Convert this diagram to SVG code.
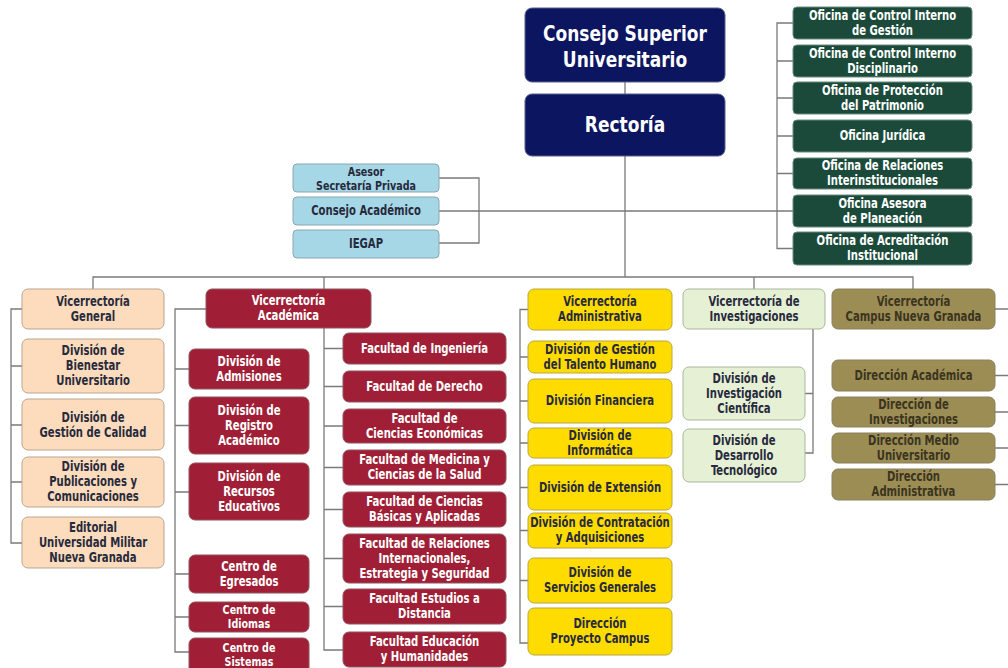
<svg xmlns="http://www.w3.org/2000/svg" width="1008" height="668" viewBox="0 0 1008 668">
<style>
text{font-family:"DejaVu Sans Condensed","Liberation Sans",sans-serif;font-weight:bold;font-size:13.5px;text-anchor:middle;transform-box:fill-box;transform-origin:center;transform:scaleX(0.83)}
.big{font-size:21.5px;transform:scaleX(0.88)}
.sm{font-size:11.8px;transform:scaleX(0.9)}
rect{stroke-width:1}
.navy rect{fill:#0c1560;stroke:#5a6088}
.navy text{fill:#fff}
.green rect{fill:#1b4a3a;stroke:#6b8a7e}
.green text{fill:#fff}
.blue rect{fill:#a5d7e6;stroke:#8aa7b2}
.blue text,.peach text,.yellow text,.pale text{fill:#272a3c}
.peach rect{fill:#fcdcbd;stroke:#b9a590}
.crimson rect{fill:#a01f36;stroke:#8e5560}
.crimson text{fill:#fff}
.yellow rect{fill:#ffdc00;stroke:#b9a640}
.pale rect{fill:#e6f0d5;stroke:#a9b59a}
.olive rect{fill:#9c8d54;stroke:#8a8060}
.olive text{fill:#3a3420}
#connectors path{fill:none;stroke:#7a7a7a;stroke-width:1.3}
</style>
<rect width="1008" height="668" fill="#fff"/>
<g id="connectors">
<path d="M625 82V94M625 156V277M93 289V277H913V289M324 277V289M754 277V289"/>
<path d="M439 178H479V243H439M439 211H777"/>
<path d="M793 23H777V248.5H793M777 61H793M777 98H793M777 136H793M777 173.5H793M777 211H793"/>
<path d="M22 309H11V543H22M11 366H22M11 425H22M11 482H22"/>
<path d="M206 309H175V652H189M175 369H189M175 425.5H189M175 492H189M175 574H189M175 617H189"/>
<path d="M324 328V650H343M324 348.5H343M324 386.5H343M324 426H343M324 467.5H343M324 509.5H343M324 558.5H343M324 606.5H343"/>
<path d="M528 309.5H520V643H528M520 357H528M520 401H528M520 443H528M520 487.5H528M520 530.5H528M520 580.5H528"/>
<path d="M813 329V453H805M813 393.5H805"/>
<path d="M995 309H1008M995 375.5H1008M995 412H1008M995 448H1008M995 484.5H1008"/>
</g>
<g id="consejo-superior" class="navy"><rect x="525" y="8" width="200" height="74" rx="7"/><text class="big" x="625" y="41.5">Consejo Superior</text><text class="big" x="625" y="67">Universitario</text></g>
<g id="rectoria" class="navy"><rect x="525" y="94" width="200" height="62" rx="7"/><text class="big" x="625" y="132.5">Rectoría</text></g>
<g id="asesor" class="blue"><rect x="293" y="164" width="146" height="28" rx="4"/><text class="sm" x="366" y="176">Asesor</text><text class="sm" x="366" y="190">Secretaría Privada</text></g>
<g id="consejo-academico" class="blue"><rect x="293" y="197" width="146" height="28" rx="4"/><text x="366" y="215.5">Consejo Académico</text></g>
<g id="iegap" class="blue"><rect x="293" y="230" width="146" height="28" rx="4"/><text x="366" y="248.5">IEGAP</text></g>
<g id="of-control-gestion" class="green"><rect x="793" y="7" width="179" height="32" rx="4"/><text x="882.5" y="20">Oficina de Control Interno</text><text x="882.5" y="35">de Gestión</text></g>
<g id="of-control-disciplinario" class="green"><rect x="793" y="45" width="179" height="32" rx="4"/><text x="882.5" y="58">Oficina de Control Interno</text><text x="882.5" y="73">Disciplinario</text></g>
<g id="of-proteccion" class="green"><rect x="793" y="82" width="179" height="32" rx="4"/><text x="882.5" y="95">Oficina de Protección</text><text x="882.5" y="110">del Patrimonio</text></g>
<g id="of-juridica" class="green"><rect x="793" y="120" width="179" height="32" rx="4"/><text x="882.5" y="140.5">Oficina Jurídica</text></g>
<g id="of-relaciones" class="green"><rect x="793" y="158" width="179" height="31" rx="4"/><text x="882.5" y="170.5">Oficina de Relaciones</text><text x="882.5" y="185.5">Interinstitucionales</text></g>
<g id="of-planeacion" class="green"><rect x="793" y="195" width="179" height="32" rx="4"/><text x="882.5" y="208">Oficina Asesora</text><text x="882.5" y="223">de Planeación</text></g>
<g id="of-acreditacion" class="green"><rect x="793" y="232" width="179" height="33" rx="4"/><text x="882.5" y="245.5">Oficina de Acreditación</text><text x="882.5" y="260.5">Institucional</text></g>
<g id="vic-general" class="peach"><rect x="22" y="289" width="142" height="40" rx="6"/><text x="93" y="306">Vicerrectoría</text><text x="93" y="321">General</text></g>
<g id="div-bienestar" class="peach"><rect x="22" y="339" width="142" height="54" rx="6"/><text x="93" y="355.5">División de</text><text x="93" y="370.5">Bienestar</text><text x="93" y="385.5">Universitario</text></g>
<g id="div-calidad" class="peach"><rect x="22" y="399" width="142" height="51" rx="6"/><text x="93" y="422">División de</text><text x="93" y="437">Gestión de Calidad</text></g>
<g id="div-publicaciones" class="peach"><rect x="22" y="457" width="142" height="50" rx="6"/><text x="93" y="471.5">División de</text><text x="93" y="486.5">Publicaciones y</text><text x="93" y="501.5">Comunicaciones</text></g>
<g id="editorial" class="peach"><rect x="22" y="517" width="142" height="51" rx="6"/><text x="93" y="532">Editorial</text><text x="93" y="547">Universidad Militar</text><text x="93" y="562">Nueva Granada</text></g>
<g id="vic-academica" class="crimson"><rect x="206" y="289" width="165" height="39" rx="6"/><text x="288.5" y="305.5">Vicerrectoría</text><text x="288.5" y="320.5">Académica</text></g>
<g id="div-admisiones" class="crimson"><rect x="189" y="349" width="120" height="40" rx="6"/><text x="249" y="366">División de</text><text x="249" y="381">Admisiones</text></g>
<g id="div-registro" class="crimson"><rect x="189" y="397" width="120" height="57" rx="6"/><text x="249" y="415">División de</text><text x="249" y="430">Registro</text><text x="249" y="445">Académico</text></g>
<g id="div-recursos" class="crimson"><rect x="189" y="463" width="120" height="57" rx="6"/><text x="249" y="481">División de</text><text x="249" y="496">Recursos</text><text x="249" y="511">Educativos</text></g>
<g id="centro-egresados" class="crimson"><rect x="189" y="555" width="120" height="38" rx="6"/><text x="249" y="571">Centro de</text><text x="249" y="586">Egresados</text></g>
<g id="centro-idiomas" class="crimson"><rect x="189" y="602" width="120" height="30" rx="6"/><text class="sm" x="249" y="614.5">Centro de</text><text class="sm" x="249" y="628.5">Idiomas</text></g>
<g id="centro-sistemas" class="crimson"><rect x="189" y="638" width="120" height="36" rx="6"/><text class="sm" x="249" y="652">Centro de</text><text class="sm" x="249" y="666">Sistemas</text></g>
<g id="fac-ingenieria" class="crimson"><rect x="343" y="333" width="163" height="31" rx="6"/><text x="424.5" y="353">Facultad de Ingeniería</text></g>
<g id="fac-derecho" class="crimson"><rect x="343" y="371" width="163" height="31" rx="6"/><text x="424.5" y="391">Facultad de Derecho</text></g>
<g id="fac-economicas" class="crimson"><rect x="343" y="409" width="163" height="34" rx="6"/><text x="424.5" y="423">Facultad de</text><text x="424.5" y="438">Ciencias Económicas</text></g>
<g id="fac-medicina" class="crimson"><rect x="343" y="450" width="163" height="35" rx="6"/><text x="424.5" y="464.5">Facultad de Medicina y</text><text x="424.5" y="479.5">Ciencias de la Salud</text></g>
<g id="fac-basicas" class="crimson"><rect x="343" y="492" width="163" height="35" rx="6"/><text x="424.5" y="506.5">Facultad de Ciencias</text><text x="424.5" y="521.5">Básicas y Aplicadas</text></g>
<g id="fac-relaciones" class="crimson"><rect x="343" y="534" width="163" height="49" rx="6"/><text x="424.5" y="548">Facultad de Relaciones</text><text x="424.5" y="563">Internacionales,</text><text x="424.5" y="578">Estrategia y Seguridad</text></g>
<g id="fac-distancia" class="crimson"><rect x="343" y="589" width="163" height="35" rx="6"/><text x="424.5" y="603.5">Facultad Estudios a</text><text x="424.5" y="618.5">Distancia</text></g>
<g id="fac-educacion" class="crimson"><rect x="343" y="632" width="163" height="35" rx="6"/><text x="424.5" y="646.5">Facultad Educación</text><text x="424.5" y="661.5">y Humanidades</text></g>
<g id="vic-administrativa" class="yellow"><rect x="528" y="289" width="144" height="41" rx="6"/><text x="600" y="306.5">Vicerrectoría</text><text x="600" y="321.5">Administrativa</text></g>
<g id="div-talento" class="yellow"><rect x="528" y="341" width="144" height="32" rx="6"/><text x="600" y="354">División de Gestión</text><text x="600" y="369">del Talento Humano</text></g>
<g id="div-financiera" class="yellow"><rect x="528" y="379" width="144" height="44" rx="6"/><text x="600" y="405.5">División Financiera</text></g>
<g id="div-informatica" class="yellow"><rect x="528" y="428" width="144" height="30" rx="6"/><text x="600" y="440">División de</text><text x="600" y="455">Informática</text></g>
<g id="div-extension" class="yellow"><rect x="528" y="465" width="144" height="45" rx="6"/><text x="600" y="492">División de Extensión</text></g>
<g id="div-contratacion" class="yellow"><rect x="528" y="513" width="144" height="35" rx="6"/><text x="600" y="527.5">División de Contratación</text><text x="600" y="542.5">y Adquisiciones</text></g>
<g id="div-servicios" class="yellow"><rect x="528" y="558" width="144" height="45" rx="6"/><text x="600" y="577.5">División de</text><text x="600" y="592.5">Servicios Generales</text></g>
<g id="dir-proyecto" class="yellow"><rect x="528" y="608" width="144" height="47" rx="6"/><text x="600" y="628.5">Dirección</text><text x="600" y="643.5">Proyecto Campus</text></g>
<g id="vic-investigaciones" class="pale"><rect x="683" y="289" width="142" height="40" rx="6"/><text x="754" y="306">Vicerrectoría de</text><text x="754" y="321">Investigaciones</text></g>
<g id="div-investigacion" class="pale"><rect x="683" y="367" width="122" height="53" rx="6"/><text x="744" y="383">División de</text><text x="744" y="398">Investigación</text><text x="744" y="413">Científica</text></g>
<g id="div-desarrollo" class="pale"><rect x="683" y="429" width="122" height="53" rx="6"/><text x="744" y="445">División de</text><text x="744" y="460">Desarrollo</text><text x="744" y="475">Tecnológico</text></g>
<g id="vic-campus" class="olive"><rect x="832" y="289" width="163" height="40" rx="6"/><text x="913.5" y="306">Vicerrectoría</text><text x="913.5" y="321">Campus Nueva Granada</text></g>
<g id="dir-academica" class="olive"><rect x="832" y="360" width="163" height="31" rx="6"/><text x="913.5" y="380">Dirección Académica</text></g>
<g id="dir-investigaciones" class="olive"><rect x="832" y="397" width="163" height="30" rx="6"/><text x="913.5" y="409">Dirección de</text><text x="913.5" y="424">Investigaciones</text></g>
<g id="dir-medio" class="olive"><rect x="832" y="433" width="163" height="30" rx="6"/><text x="913.5" y="445">Dirección Medio</text><text x="913.5" y="460">Universitario</text></g>
<g id="dir-administrativa" class="olive"><rect x="832" y="469" width="163" height="31" rx="6"/><text x="913.5" y="481.5">Dirección</text><text x="913.5" y="496.5">Administrativa</text></g>
</svg>
